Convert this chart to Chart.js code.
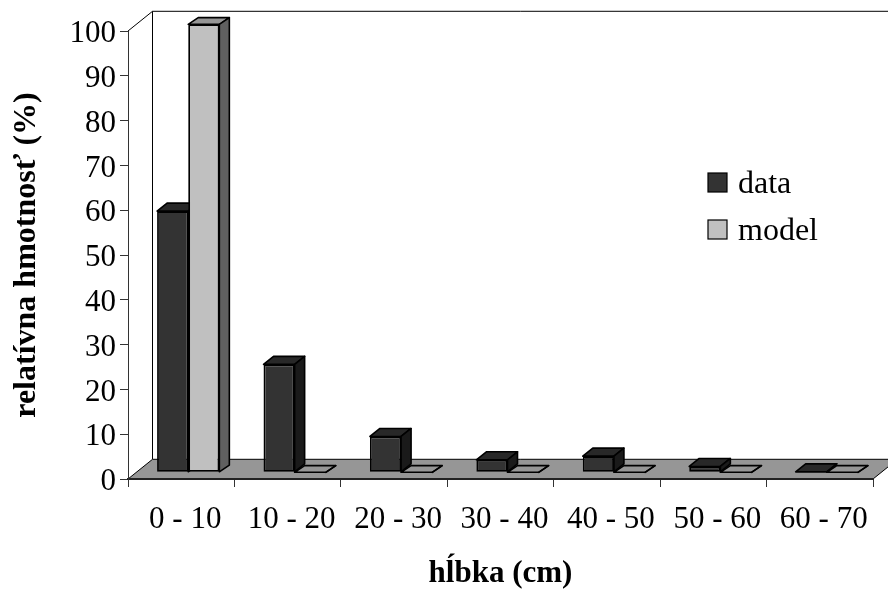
<!DOCTYPE html>
<html>
<head>
<meta charset="utf-8">
<script src="https://cdn.jsdelivr.net/npm/chart.js@4"></script>
<style>
  html, body { margin: 0; padding: 0; background: #fff; }
  #wrap { width: 888px; height: 589px; }
</style>
</head>
<body>
<div id="wrap"><canvas id="myChart" width="888" height="589"></canvas></div>
<script>
const categories = ["0 - 10", "10 - 20", "20 - 30", "30 - 40", "40 - 50", "50 - 60", "60 - 70"];
const dataValues = [58.3, 24.1, 8, 2.8, 3.6, 1.3, 0.1];
const modelValues = [100, 0, 0, 0, 0, 0, 0];
const yTicks = [0, 10, 20, 30, 40, 50, 60, 70, 80, 90, 100];
const seriesNames = ["data", "model"];
const xTitle = "hĺbka (cm)";
const yTitle = "relatívna hmotnosť (%)";

const FONT = "'Liberation Serif', 'Times New Roman', serif";
// fake 3d depth of the floor and of one bar
const wall = { dx: 24.5, dy: 19.7 };
const barShift = { dx: 7, dy: 6.7 };
const faces = [
    { front: "#333333", top: "#282828", side: "#1a1a1a", dx: 10, dy: 8 },
    { front: "#c0c0c0", top: "#969696", side: "#606060", dx: 10, dy: 6.7 },
];

function poly(ctx, pts, fill) {
    ctx.beginPath();
    pts.forEach((p, i) => i ? ctx.lineTo(p[0], p[1]) : ctx.moveTo(p[0], p[1]));
    ctx.closePath();
    ctx.fillStyle = fill;
    ctx.fill();
    ctx.stroke();
}

const box3d = {
    id: "box3d",
    beforeDraw(chart) {
        const { ctx, chartArea: a } = chart;
        ctx.save();
        ctx.strokeStyle = "#000";
        ctx.lineWidth = 1;
        // back wall and left wall edges
        ctx.beginPath();
        ctx.moveTo(a.left, a.top);
        ctx.lineTo(a.left + wall.dx, a.top - wall.dy);
        ctx.lineTo(a.right + wall.dx, a.top - wall.dy);
        ctx.moveTo(a.left + wall.dx, a.top - wall.dy);
        ctx.lineTo(a.left + wall.dx, a.bottom - wall.dy);
        ctx.stroke();
        // floor
        poly(ctx, [
            [a.left, a.bottom],
            [a.right, a.bottom],
            [a.right + wall.dx, a.bottom - wall.dy],
            [a.left + wall.dx, a.bottom - wall.dy],
        ], "#969696");
        ctx.restore();
    },
    beforeDatasetsDraw(chart) {
        const { ctx } = chart;
        ctx.save();
        ctx.translate(barShift.dx, -barShift.dy);
        ctx.strokeStyle = "#000";
        ctx.lineWidth = 1.6;
        ctx.lineJoin = "round";
        chart.data.datasets.forEach((ds, d) => {
            const f = faces[d];
            chart.getDatasetMeta(d).data.forEach((el) => {
                const p = el.getProps(["x", "y", "base", "width"], true);
                const l = p.x - p.width / 2, r = p.x + p.width / 2;
                poly(ctx, [[l, p.y], [r, p.y], [r + f.dx, p.y - f.dy], [l + f.dx, p.y - f.dy]], f.top);
                poly(ctx, [[r, p.y], [r, p.base], [r + f.dx, p.base - f.dy], [r + f.dx, p.y - f.dy]], f.side);
            });
        });
        // the fronts are drawn by the chart itself, still shifted
    },
    afterDatasetsDraw(chart) {
        chart.ctx.restore();
    },
    afterDraw(chart) {
        // legend inside the plot
        const { ctx } = chart;
        ctx.save();
        ctx.strokeStyle = "#000";
        ctx.lineWidth = 1.2;
        ctx.font = "32px " + FONT;
        ctx.textBaseline = "middle";
        seriesNames.forEach((name, i) => {
            const y = 173 + i * 47;
            ctx.fillStyle = faces[i].front;
            ctx.fillRect(708, y, 19, 19);
            ctx.strokeRect(708, y, 19, 19);
            ctx.fillStyle = "#000";
            ctx.fillText(name, 738, y + 12);
        });
        ctx.restore();
    },
};

new Chart(document.getElementById("myChart").getContext("2d"), {
    type: "bar",
    data: {
        labels: categories,
        datasets: [
            { label: seriesNames[0], data: dataValues, backgroundColor: faces[0].front, borderColor: "#000", borderWidth: 1.8, borderSkipped: false, clip: false },
            { label: seriesNames[1], data: modelValues, backgroundColor: faces[1].front, borderColor: "#000", borderWidth: 1.8, borderSkipped: false, clip: false },
        ],
    },
    plugins: [box3d],
    options: {
        responsive: false,
        animation: false,
        layout: { padding: { top: 31, right: 15, left: 0, bottom: 0 } },
        categoryPercentage: 0.585,
        barPercentage: 1,
        plugins: { legend: { display: false }, tooltip: { enabled: false } },
        scales: {
            x: {
                afterFit: (s) => { s.height = 110; },
                grid: { drawOnChartArea: false, tickLength: 8, color: "#333", lineWidth: 1 },
                border: { color: "#222", width: 2 },
                ticks: { color: "#000", font: { family: FONT, size: 31 }, padding: 14, maxRotation: 0, autoSkip: false, labelOffset: 4 },
                title: { display: true, text: xTitle, color: "#000", font: { family: FONT, size: 31, weight: "bold" }, padding: { top: 0, bottom: -4 } },
            },
            y: {
                min: 0,
                max: 100,
                afterFit: (s) => { s.width = 128; },
                afterBuildTicks: (s) => { s.ticks = yTicks.map((v) => ({ value: v })); },
                grid: { drawOnChartArea: false, tickLength: 8, color: "#333", lineWidth: 1 },
                border: { color: "#333", width: 1 },
                ticks: { color: "#000", font: { family: FONT, size: 31 }, padding: 4, labelOffset: 3 },
                title: { display: true, text: yTitle, color: "#000", font: { family: FONT, size: 32, weight: "bold" }, padding: { top: 8, bottom: 0 } },
            },
        },
    },
});
</script>
</body>
</html>
